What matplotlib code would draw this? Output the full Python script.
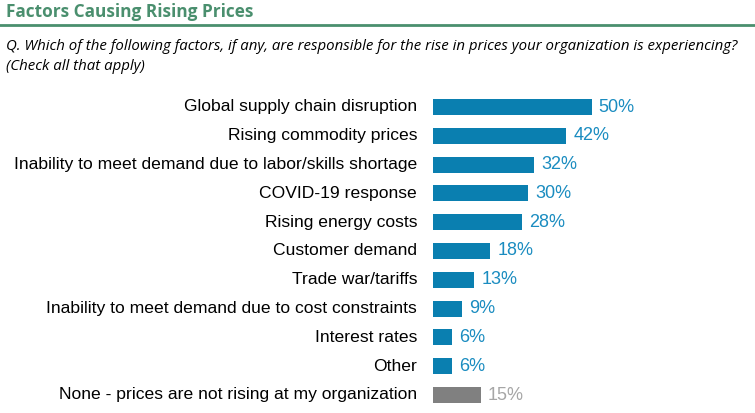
import matplotlib
matplotlib.use("Agg")
import matplotlib.pyplot as plt
from matplotlib.lines import Line2D

categories = [
    "Global supply chain disruption",
    "Rising commodity prices",
    "Inability to meet demand due to labor/skills shortage",
    "COVID-19 response",
    "Rising energy costs",
    "Customer demand",
    "Trade war/tariffs",
    "Inability to meet demand due to cost constraints",
    "Interest rates",
    "Other",
    "None - prices are not rising at my organization",
]
values = [50, 42, 32, 30, 28, 18, 13, 9, 6, 6, 15]
title = "Factors Causing Rising Prices"
question = ["Q. Which of the following factors, if any, are responsible for the rise in prices your organization is experiencing?",
            "(Check all that apply)"]

blue = "#0a7fb0"
blue_txt = "#1a8cc0"
gray = "#808080"
gray_txt = "#a6a6a6"
green = "#4a8f6e"

fig = plt.figure(figsize=(7.55, 4.13), dpi=100)
ax = fig.add_axes([433/755, 1 - 409.4/413, 1 - 433/755, 316.8/413])
n = len(categories)
ys = list(range(n))[::-1]
colors = [blue]*(n-1) + [gray]
tcolors = [blue_txt]*(n-1) + [gray_txt]
ax.barh(ys, values, height=0.56, color=colors)
ax.set_xlim(0, 322/3.17)
ax.set_ylim(-0.5, n-0.5)
for y, v, c, lab in zip(ys, values, tcolors, categories):
    ax.text(v + 2.3, y, f"{v}%", va="center", ha="left", color=c,
            fontsize=13, family="Liberation Sans")
    ax.text(-5.0, y, lab, va="center", ha="right", color="black",
            fontsize=12.6, family="Liberation Sans", clip_on=False)
ax.axis("off")

fig.text(6/755, 1 - 12/413, title, fontsize=12.4, fontweight="bold", color=green,
         family="Open Sans", va="center", ha="left")
fig.add_artist(Line2D([0, 1], [1 - 24.5/413]*2, color=green, lw=2, transform=fig.transFigure))
fig.text(6/755, 1 - 47/413, question[0], fontsize=10.8, style="italic", family="Open Sans",
         va="center", ha="left")
fig.text(6/755, 1 - 66/413, question[1], fontsize=10.8, style="italic", family="Open Sans",
         va="center", ha="left")

fig.savefig("out.png", dpi=100)
